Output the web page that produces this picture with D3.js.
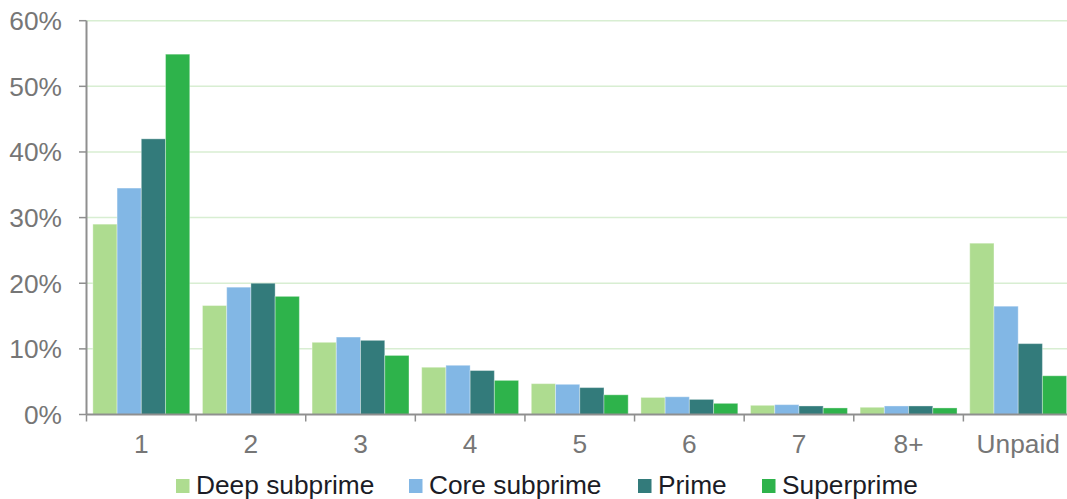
<!DOCTYPE html>
<html>
<head>
<meta charset="utf-8">
<script src="https://cdn.jsdelivr.net/npm/d3@7"></script>
<style>
  html, body { margin: 0; padding: 0; background: #fff; }
  svg { display: block; font-family: "Liberation Sans", Arial, sans-serif; }
</style>
</head>
<body>
<svg id="chart" width="1067" height="499"></svg>
<script>
const categories = ["1", "2", "3", "4", "5", "6", "7", "8+", "Unpaid"];
const seriesNames = ["Deep subprime", "Core subprime", "Prime", "Superprime"];
const deepSubprime = [29.0, 16.6, 11.0, 7.2, 4.7, 2.6, 1.4, 1.1, 26.1];
const coreSubprime = [34.5, 19.4, 11.8, 7.5, 4.6, 2.7, 1.5, 1.3, 16.5];
const prime        = [42.0, 20.0, 11.3, 6.7, 4.1, 2.3, 1.3, 1.3, 10.8];
const superprime   = [54.9, 18.0, 9.0, 5.2, 3.0, 1.7, 1.0, 1.0, 5.9];
const yTicks = [0, 10, 20, 30, 40, 50, 60];
const colors = ["#aedc90", "#82b7e5", "#337b7b", "#2eb34b"];

const seriesValues = [deepSubprime, coreSubprime, prime, superprime];

const svg = d3.select("#chart");
const pLeft = 86.5, pRight = 1073, pTop = 20.7, pBottom = 414.5;

const y = d3.scaleLinear().domain([0, 60]).range([pBottom, pTop]);
const x0 = d3.scaleBand().domain(categories).range([pLeft, pRight])
  .paddingInner(0.116).paddingOuter(0.058);
const x1 = d3.scaleBand().domain(seriesNames).range([0, x0.bandwidth()]);

// gridlines
svg.append("g").selectAll("line").data(yTicks.filter(d => d > 0)).join("line")
  .attr("x1", pLeft).attr("x2", 1067)
  .attr("y1", d => y(d)).attr("y2", d => y(d))
  .attr("stroke", "#d8eed2").attr("stroke-width", 1.5);

// bars
const groups = svg.append("g").selectAll("g").data(categories).join("g")
  .attr("transform", c => `translate(${x0(c)},0)`);
groups.selectAll("rect")
  .data((c, i) => seriesNames.map((s, j) => ({ s, j, v: seriesValues[j][i] })))
  .join("rect")
  .attr("x", d => x1(d.s))
  .attr("width", x1.bandwidth())
  .attr("y", d => y(d.v))
  .attr("height", d => y(0) - y(d.v))
  .attr("fill", d => colors[d.j])
  .attr("stroke", "rgba(255,255,255,0.35)")
  .attr("stroke-width", 1);

// y axis
const gy = svg.append("g");
gy.append("line").attr("x1", pLeft).attr("x2", pLeft).attr("y1", pTop).attr("y2", pBottom)
  .attr("stroke", "#8f8f8f").attr("stroke-width", 2);
gy.selectAll("line.tick").data(yTicks).join("line").attr("class", "tick")
  .attr("x1", 79).attr("x2", pLeft).attr("y1", d => y(d)).attr("y2", d => y(d))
  .attr("stroke", "#8f8f8f").attr("stroke-width", 1.5);
gy.selectAll("text").data(yTicks).join("text")
  .attr("x", 62).attr("y", d => y(d) + 9.5)
  .attr("text-anchor", "end")
  .attr("fill", "#767676").attr("font-size", 26.3)
  .text(d => d + "%");

// x axis
const gx = svg.append("g");
gx.append("line").attr("x1", pLeft).attr("x2", 1067).attr("y1", pBottom).attr("y2", pBottom)
  .attr("stroke", "#8f8f8f").attr("stroke-width", 2);
const step = x0.step();
gx.selectAll("line.tick").data(categories).join("line").attr("class", "tick")
  .attr("x1", c => x0(c) - x0.paddingInner() * step / 2)
  .attr("x2", c => x0(c) - x0.paddingInner() * step / 2)
  .attr("y1", pBottom).attr("y2", pBottom + 7)
  .attr("stroke", "#8f8f8f").attr("stroke-width", 1.5);
gx.selectAll("text").data(categories).join("text")
  .attr("x", c => x0(c) + x0.bandwidth() / 2)
  .attr("y", 453)
  .attr("text-anchor", "middle")
  .attr("fill", "#767676").attr("font-size", 26.3)
  .text(c => c);

// legend
const legendX = [176, 409, 638, 762];
const lg = svg.append("g").selectAll("g").data(seriesNames).join("g")
  .attr("transform", (d, i) => `translate(${legendX[i]},0)`);
lg.append("rect").attr("x", 0).attr("y", 479).attr("width", 13.5).attr("height", 14)
  .attr("fill", (d, i) => colors[i]);
lg.append("text").attr("x", 20).attr("y", 493.5)
  .attr("fill", "#1b1c26").attr("font-size", 26.3)
  .text(d => d);
</script>
</body>
</html>
